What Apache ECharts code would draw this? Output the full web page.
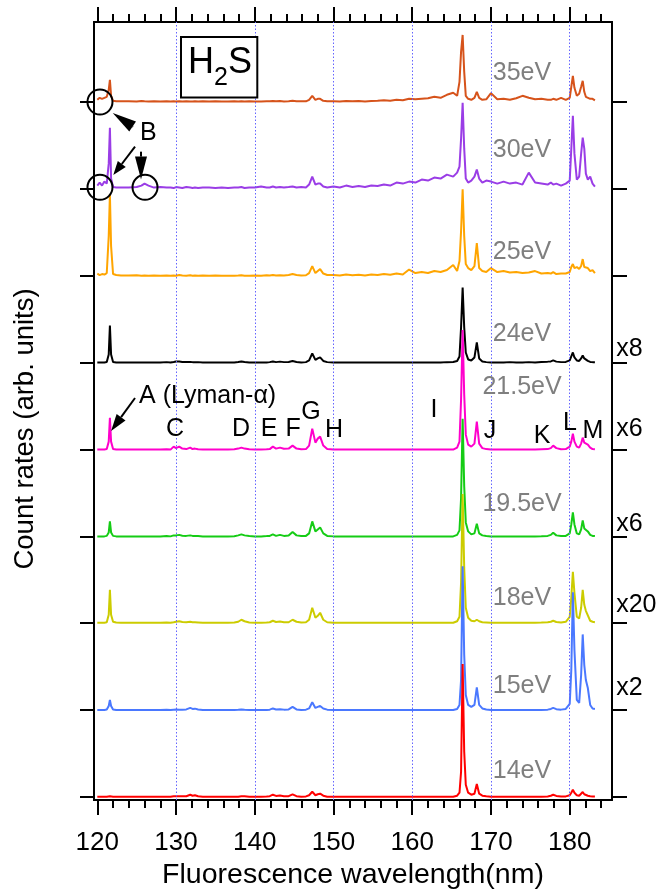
<!DOCTYPE html>
<html><head><meta charset="utf-8">
<script src="https://cdn.jsdelivr.net/npm/echarts@6/dist/echarts.min.js"></script>
<style>html,body{margin:0;padding:0;background:#fff}#c{width:661px;height:895px}</style>
</head><body><div id="c"></div>
<script>
// ---------------- DATA ----------------
const wavelength = [
 120.0,120.3,120.6,120.9,121.2,121.45,121.6,121.75,122.0,122.4,123.0,
 124.0,125.0,125.6,126.0,126.5,127.2,128.0,128.8,
 129.3,129.7,130.0,130.4,130.8,131.3,131.8,132.1,132.4,132.8,133.4,
 134.2,135.0,135.8,136.6,137.4,
 137.9,138.3,138.7,139.3,
 140.0,140.8,141.5,
 141.9,142.3,142.7,143.2,143.7,144.3,144.8,145.3,145.9,
 146.5,146.9,147.3,147.7,148.0,148.3,148.7,149.2,
 150.0,150.8,151.6,152.4,153.2,154.0,154.8,155.6,156.4,157.2,158.0,158.8,159.6,160.4,161.2,162.0,162.8,163.6,164.4,165.2,
 165.7,166.0,166.2,166.4,166.6,166.8,167.1,167.5,167.9,168.2,168.5,168.9,169.4,
 170.0,170.8,171.6,172.4,173.2,174.0,174.8,175.6,176.4,177.2,
 177.6,177.9,178.3,178.9,
 179.5,180.0,180.2,180.4,180.6,180.9,181.2,181.45,181.65,181.85,182.05,182.3,182.6,182.9,183.2
];
const energies = ['35eV','30eV','25eV','24eV','21.5eV','19.5eV','18eV','15eV','14eV'];
const offsets = [696.7, 609.7, 522, 435.4, 348, 261, 174.4, 87, 0];

const s35 = [
 2,4,3,4,5,12,22,6,1,0.5,0.5,
 0.5,0.3,0.8,0.5,0.3,0.5,0.3,0.5,
 0.3,0.5,0.3,0.6,0.3,0.5,0.4,0.3,0.5,0.3,0.5,
 0.3,0.5,0.4,0.3,0.5,
 0.4,0.6,0.3,0.5,
 0.4,0.3,0.6,
 0.5,0.8,0.5,0.7,0.4,0.6,1,0.6,0.5,
 0.5,2,6,2,3,3,1,0.6,
 0.5,0.3,0.8,0.5,0.7,0.4,0.8,1,1.5,1,2,1.5,3,2.5,3,3.5,5,4,7,9,
 6,20,50,67,30,6,3,2,4,10,4,2,2.5,
 8.7,2.5,3,2,3.5,6,4,2.5,3,2,
 2,3,2,4,
 2,4,15,26,14,6,8,15,21,10,5,7,3,3,1.5
];
const s30 = [
 3,6,3,7,5,25,61,10,1.5,1,1,
 1,1.5,3,5,3,1,1.5,1,
 1,0.5,1.5,1,0.5,1.5,1,0.5,1,0.5,1,
 1,0.5,1,0.5,1,
 1,1.5,0.5,1,
 1,2,1,
 1,2,1,1.5,1,1.5,2,1,1.5,
 1,4,12,4,5,5,2,1,
 2,1,3,1.5,2.5,1.5,3,2.5,4,3,6,5,7,6,9,8,11,10,14,12,
 16,22,50,86,40,10,6,8,12,19,10,6,8,
 7,5,7,5,6,4,16,6,5,4,
 6,4,5,3,
 5,8,40,73,35,9,12,35,51,40,15,9,12,5,2
];
const s25 = [
 2.5,1,2,1.5,3,40,82,30,2,1,0.5,
 0.5,0.8,0.3,0.5,0.2,0.5,0.3,0.5,
 0.3,0.5,0.3,1,0.5,0.3,0.8,0.3,0.5,0.3,0.5,
 0.3,0.5,0.2,0.4,0.3,
 0.5,0.8,0.4,0.3,
 0.5,0.3,0.8,
 0.5,1,0.5,0.8,0.5,1,2,1,0.5,
 0.8,3,10,3,5,7,2.5,1,
 1,0.5,1.5,0.8,1.2,0.5,1.5,1,2,1.2,2.5,1.5,6.5,3,4,3,5,4,6,11,
 5,15,45,87,40,12,8,6,10,33,8,5,4,
 8,4,5,3.5,4,3,3.5,5,2.5,3,
 2.5,4,2,2.5,
 2.5,4,9,12,8,9,7,10,17,9,7,8,5,6,3
];
const s24 = [
 0,0,0,0,0.5,8,37,8,0.5,0,0,
 0,0,0,0,0,0,0,0.3,
 0,0.5,1,1,0.5,0.5,0.5,0.3,0.3,0.3,0,
 0,0,0,0,0,
 0.5,1,0.5,0,
 0,0,0,
 0.3,1,0.3,0.8,0.3,0.5,1.5,0.5,0,
 0.3,2,9,2.5,4,5,1.5,0.3,
 0,0,0,0,0,0,0,0,0,0,0,0,0,0,0,0,0,0,0.3,0.5,
 1.5,6,35,75,35,10,3,2,5,20,4,1,0.3,
 0,0,0,0.3,0,0,0.3,0,0.5,0.8,
 1,2,0.8,0.3,
 0.5,2,6,10,5,2,1.5,4,7,4,2.5,1.5,0.5,0.3,0.3
];
const s215 = [
 0,0,0,0,0.5,8,32,8,0.5,0,0,
 0,0,0,0,0,0,0,0.3,
 0,3,1.5,3,1,0.5,2,0.5,1,0.3,0,
 0,0,0,0,0.3,
 1,2,1,0.3,
 0,0,0.3,
 0.5,3,1,2,0.8,1,4,1,0.3,
 0.5,4,21,7,11,13,4,0.5,
 0,0,0,0,0,0,0,0,0,0,0,0,0,0,0,0,0,0,0,0,
 2,8,50,120,55,15,5,3,6,28,6,1.5,0.5,
 0,0,0,0,0,0,0,0,0.3,0.5,
 1.5,4,1.5,0.3,
 0.5,3,8,16,8,3,2,6,12,7,5,5,2,0.5,0.3
];
const s195 = [
 0,0,0,0,0.5,4,15,4,0.5,0,0,
 0,0,0,0,0,0,0,0.3,
 0,1,1,1.5,0.7,0.5,1,0.5,0.5,0.3,0,
 0,0,0,0,0.2,
 1,2,1,0.3,
 0,0,0.3,
 0.5,2,0.5,1.5,0.5,0.8,4.4,1,0.3,
 0.5,3,15,5,7,9,3,0.5,
 0,0,0,0,0,0,0,0,0,0,0,0,0,0,0,0,0,0,0,0,
 1.5,6,38,118,50,14,5,2,3,12.7,3,1,0.3,
 0,0,0,0,0,0,0,0,0.2,0.5,
 1.5,3.7,1,0.3,
 0.5,3,12,24,12,3,2,7,16,8,6,5,1.5,0.5,0.3
];
const s18 = [
 0,0,0,0,0.5,8,33,8,1,0.3,0,
 0,0,0,0,0,0,0,0.3,
 0,0.5,1,1.5,0.7,0.5,1,0.5,0.5,0.3,0,
 0,0,0,0,0.2,
 1,3,1.5,0.3,
 0,0,0.3,
 0.5,2,0.8,1.2,0.5,0.5,3,1,0.3,
 0.5,3,15,5,7,10,3,0.5,
 0,0,0,0,0,0,0,0,0,0,0,0,0,0,0,0,0,0,0,0,
 1.5,6,40,129,55,15,5,2,1.5,3,1.5,0.5,0.3,
 0,0,0,0,0,0,0,0,0.2,0.5,
 1,2,0.8,0.3,
 1,6,25,51,30,6,4.3,15,33,18,12,10,2,1,0.5
];
const s15 = [
 0,0,0,0,0.5,4,10,4,0.5,0,0,
 0,0,0,0,0,0,0,0.3,
 0,0.3,0.5,0.3,0.3,0.5,2,1,1.3,0.5,0,
 0,0,0,0,0,
 0.2,0.5,0.2,0,
 0,0,0,
 0.3,1.5,0.5,0.8,0.3,0.5,3,0.5,0,
 0.3,1.5,7.7,2,3,4,1.5,0.3,
 0,0,0,0,0,0,0,0,0,0,0,0,0,0,0,0,0,0,0,0,
 1,5,30,144,55,15,5,3,5,22.7,5,1.5,0.5,
 0,0,0,0,0,0,0,0,0,0.3,
 1,2,0.8,0.3,
 1,6,40,118,60,10,7,35,75.7,45,30,22,5,1.5,1
];
const s14 = [
 0,0,0,0,0,0.5,0.5,0.5,0,0,0,
 0,0,0,0,0,0,0,0,
 0,0.5,0.5,0.5,0.5,0.5,2,1,1.5,0.5,0,
 0,0,0,0,0,
 0,0.5,0.5,0,
 0,0,0.3,
 0.5,2,0.8,1.2,0.5,0.5,2.3,0.5,0,
 0.3,1.5,5,1.5,2.5,3,1,0,
 0,0,0,0,0,0,0,0,0,0,0,0,0,0,0,0,0,0,0,0,
 1,4,25,133,45,12,4,2,3,12.7,3,1,0.5,
 0,0,0,0,0,0,0,0,0,0.3,
 1,2,0.8,0.3,
 0.3,1.5,4,7,4,1.5,1,2.5,4.7,2.5,1.5,1,0.5,0.3,0.3
];
const spectra = [s35, s30, s25, s24, s215, s195, s18, s15, s14];

const majorTicks = [120,130,140,150,160,170,180];
const minorTicks = [120,122,124,126,128,130,132,134,136,138,140,142,144,146,148,150,152,154,156,158,160,162,164,166,168,170,172,174,176,178,180,182,184];
const gridLines = [130,140,150,160,170,180];

// annotation anchors (data coordinates)
const energyLabelX = 173.94;
const energyLabelY = [725.7, 648.7, 545.7, 463.7, 410.7, 293.7, 198.7, 110.7, 25.7];
const scaleText = ['x8','x6','x6','x20','x2'];
const scaleY = [448.7, 368.7, 273.7, 191.7, 108.7];
const scaleX = 185.9;
const peakLetters = ['C','D','E','F','G','H','I','J','K','L','M'];
const peakLetterX = [129.87,138.25,141.81,144.86,147.15,150.07,162.77,169.89,176.5,180.04,182.96];
const peakLetterY = [368.7,368.7,368.7,368.7,385.7,367.7,387.7,366.7,361.7,374.7,366.7];

// ---------------- STYLE ----------------
const FONT = '"Liberation Sans", Arial, Helvetica, sans-serif';
const colors = ['#d6531b','#9a3de6','#ffa500','#000000','#ff00cc','#15cc15','#cccc00','#4a78ff','#ff0000'];
const X_MIN = 119.58, X_MAX = 185.37, Y_MIN = -3.3, Y_MAX = 776.7;

function xAx(pos, len, ticks, showLabel, extra) {
  return Object.assign({
    type: 'value', position: pos, min: X_MIN, max: X_MAX,
    axisLine: {show: true, onZero: false, lineStyle: {color: '#000', width: 2}},
    axisTick: {show: true, inside: false, length: len, customValues: ticks, lineStyle: {color: '#000', width: 2}},
    axisLabel: {show: showLabel, customValues: ticks, margin: 30, fontSize: 26, color: '#000', fontFamily: FONT},
    splitLine: {show: false}
  }, extra || {});
}
function yAx(pos, len, extra) {
  return Object.assign({
    type: 'value', position: pos, min: Y_MIN, max: Y_MAX,
    axisLine: {show: true, onZero: false, lineStyle: {color: '#000', width: 2}},
    axisTick: {show: true, inside: false, length: len, customValues: offsets, lineStyle: {color: '#000', width: 2}},
    axisLabel: {show: false},
    splitLine: {show: false}
  }, extra || {});
}

const series = [{
  type: 'line', data: [[X_MIN, Y_MIN]], symbol: 'none', silent: true,
  lineStyle: {opacity: 0}, z: 1,
  markLine: {
    silent: true, symbol: 'none', animation: false,
    label: {show: false},
    lineStyle: {color: '#6464ff', type: [1.5, 2], width: 1},
    emphasis: {disabled: true},
    data: gridLines.map(v => ({xAxis: v}))
  }
}];
spectra.forEach((vals, k) => {
  series.push({
    name: energies[k], type: 'line', symbol: 'none', silent: true, z: 2,
    lineStyle: {color: colors[k], width: 2},
    data: wavelength.map((w, i) => [w, offsets[k] + vals[i]])
  });
});

const chart = echarts.init(document.getElementById('c'));
chart.setOption({
  animation: false,
  backgroundColor: '#fff',
  grid: {left: 94, right: 49, top: 22, bottom: 93, containLabel: false},
  xAxis: [
    xAx('bottom', 15, majorTicks, true, {
      name: 'Fluorescence wavelength(nm)', nameLocation: 'middle', nameGap: 61,
      nameTextStyle: {fontSize: 28.5, color: '#000', fontFamily: FONT}
    }),
    xAx('bottom', 8, minorTicks, false),
    xAx('top', 15, majorTicks, false),
    xAx('top', 8, minorTicks, false)
  ],
  yAxis: [
    yAx('left', 14),
    yAx('right', 15)
  ],
  series: series
});

// ---------------- ANNOTATIONS ----------------
const P = (x, y) => chart.convertToPixel({xAxisIndex: 0, yAxisIndex: 0}, [x, y]);
const g = [];
function txt(t, x, y, size, color, align) {
  const p = P(x, y);
  g.push({type: 'text', silent: true, z: 50, style: {
    text: t, x: p[0], y: p[1], fill: color || '#000', fontSize: size, fontFamily: FONT,
    align: align || 'center', verticalAlign: 'middle'}});
}
function arrow(from, tip, headLen, headW) {
  const a = P(from[0], from[1]), b = P(tip[0], tip[1]);
  const dx = b[0] - a[0], dy = b[1] - a[1], L = Math.hypot(dx, dy), ux = dx / L, uy = dy / L;
  const bx = b[0] - ux * headLen, by = b[1] - uy * headLen;
  const px = -uy * headW / 2, py = ux * headW / 2;
  if (L > headLen) g.push({type: 'line', silent: true, z: 50, shape: {x1: a[0], y1: a[1], x2: bx, y2: by}, style: {stroke: '#000', lineWidth: 2}});
  g.push({type: 'polygon', silent: true, z: 50, shape: {points: [[b[0], b[1]], [bx + px, by + py], [bx - px, by - py]]}, style: {fill: '#000'}});
}
function circ(x, y, r) {
  const p = P(x, y);
  g.push({type: 'circle', silent: true, z: 50, shape: {cx: p[0], cy: p[1], r: r}, style: {fill: 'none', stroke: '#000', lineWidth: 2}});
}

energies.forEach((e, k) => txt(e, energyLabelX, energyLabelY[k], 25, '#7f7f7f'));
scaleText.forEach((t, k) => txt(t, scaleX, scaleY[k], 25, '#000', 'left'));
peakLetters.forEach((t, k) => txt(t, peakLetterX[k], peakLetterY[k], 25));
txt('A (Lyman-\u03b1)', 125.3, 402, 25, '#000', 'left');
arrow([124.79, 399.7], [121.75, 366.7], 17, 11);
txt('B', 126.48, 665.4, 25);
circ(120.34, 696.5, 12.5);
circ(120.34, 611, 12.5);
circ(126.06, 611, 12.5);
arrow([124.53, 671.7], [121.96, 685.4], 24, 12);
arrow([124.79, 651.7], [122.03, 623.2], 14, 10);
arrow([125.55, 646.7], [125.55, 618.7], 23, 12);

// y-axis title (rotated, reads bottom-to-top)
const yt = P(110.82, 368.7);
g.push({type: 'text', silent: true, z: 50, x: yt[0], y: yt[1], rotation: Math.PI / 2,
  style: {text: 'Count rates (arb. units)', x: 0, y: 0, fill: '#000', fontSize: 27.5, fontFamily: FONT,
    align: 'center', verticalAlign: 'middle'}});

// H2S box
const b1 = P(130.63, 761.7), b2 = P(140.32, 701);
g.push({type: 'rect', silent: true, z: 50, shape: {x: b1[0], y: b1[1], width: b2[0] - b1[0], height: b2[1] - b1[1]}, style: {fill: '#fff', stroke: '#000', lineWidth: 2}});
txt('H', 131.52, 735.4, 36, '#000', 'left');
txt('2', 134.82, 720.7, 25, '#000', 'left');
txt('S', 136.6, 735.4, 36, '#000', 'left');

chart.setOption({graphic: {elements: g}});
</script>
</body></html>
